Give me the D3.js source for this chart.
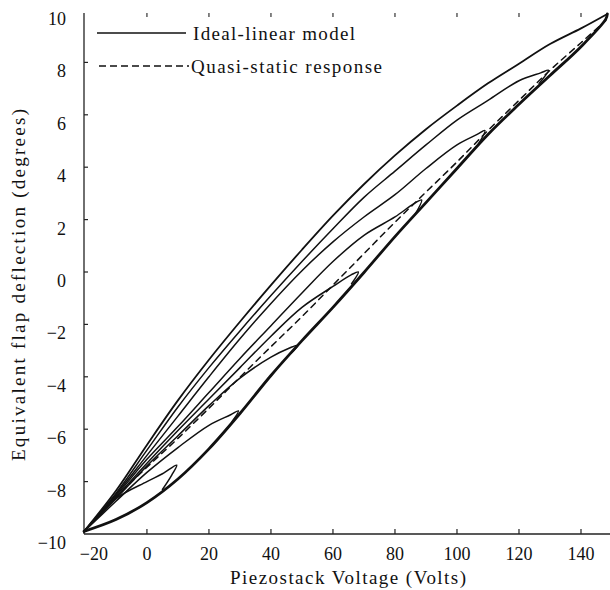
<!DOCTYPE html>
<html>
<head>
<meta charset="utf-8">
<script src="https://cdn.jsdelivr.net/npm/d3@7"></script>
<style>
  body { margin: 0; background: #fff; }
  svg { display: block; font-family: "Liberation Serif", "Times New Roman", serif; }
</style>
</head>
<body>
<script>
const width = 610, height = 590;

// ticks
const xTicks = [-20, 0, 20, 40, 60, 80, 100, 120, 140];
const yTicks = [-10, -8, -6, -4, -2, 0, 2, 4, 6, 8, 10];

// quasi-static response (dashed)
const quasiStatic = [[-20.3,-9.9],[-10,-8.6],[0,-7.45],[10,-6.35],[20,-5.2],[30,-4.02],[40,-2.85],[50,-1.7],
  [60,-0.5],[70,0.7],[80,1.9],[90,3.05],[100,4.2],[110,5.4],[120,6.55],[130,7.7],[140,8.75],[148,9.6]];

// ascending (lower) branch shared by all loops
const lowerBranch = [[-20.3,-9.9],[-10,-9.45],[0,-8.8],[10,-7.9],[20,-6.75],[30,-5.4],[40,-3.95],[50,-2.62],
  [60,-1.35],[70,-0.02],[80,1.35],[90,2.65],[100,3.95],[110,5.25],[120,6.4],[130,7.5],[140,8.6],[148,9.65],[148.5,9.85]];

// descending branches, from each turning point back to the start
const outerUpper = [[148.5,9.85],[140,9.3],[130,8.7],[120,7.95],[110,7.2],[100,6.35],[90,5.45],[80,4.45],[70,3.35],
  [60,2.15],[50,0.85],[40,-0.5],[30,-1.9],[20,-3.35],[10,-4.9],[0,-6.6],[-10,-8.35],[-20.3,-9.9]];
const loop128 = [[126.5,7.2],[129.5,7.7],[127,7.6],[120,7.3],[110,6.55],[100,5.8],[90,4.85],[80,3.85],[70,2.85],
  [60,1.65],[50,0.4],[40,-0.9],[30,-2.25],[20,-3.65],[10,-5.15],[0,-6.8],[-10,-8.45],[-20.3,-9.9]];
const loop108 = [[106.5,4.8],[109,5.4],[106.5,5.25],[100,4.85],[90,3.95],[80,2.95],[70,2.1],[60,1.15],[50,0.05],
  [40,-1.2],[30,-2.55],[20,-4.0],[10,-5.5],[0,-7.0],[-10,-8.5],[-20.3,-9.9]];
const loop88 = [[86.5,2.2],[88.6,2.75],[86,2.6],[80,2.1],[70,1.4],[60,0.4],[50,-0.8],[40,-2.05],[30,-3.3],
  [20,-4.6],[10,-5.9],[0,-7.15],[-10,-8.55],[-20.3,-9.9]];
const loop68 = [[66,-0.45],[68.2,0.0],[66,-0.1],[60,-0.55],[50,-1.35],[40,-2.45],[30,-3.65],[20,-4.85],
  [10,-6.05],[0,-7.3],[-10,-8.6],[-20.3,-9.9]];
const loop48 = [[46.5,-3.1],[48.8,-2.79],[46,-2.9],[40,-3.25],[30,-4.05],[20,-5.1],[10,-6.25],[0,-7.4],
  [-10,-8.65],[-20.3,-9.9]];
const loop28 = [[27.5,-5.7],[29.5,-5.3],[27,-5.45],[20,-5.85],[10,-6.7],[0,-7.65],[-10,-8.75],[-20.3,-9.9]];
const loop8 = [[5,-8.3],[8,-7.75],[9.6,-7.37],[5,-7.7],[0,-8.0],[-10,-8.65],[-20.3,-9.9]];
const innerLoops = [loop128, loop108, loop88, loop68, loop48, loop28, loop8];

const x = d3.scaleLinear().domain([-20.3, 150]).range([84, 612]);
const y = d3.scaleLinear().domain([-10, 10]).range([534, 10]);

const svg = d3.select("body").append("svg")
    .attr("width", width)
    .attr("height", height)
    .attr("fill", "#111");

const line = d3.line()
    .x(d => x(d[0]))
    .y(d => y(d[1]))
    .curve(d3.curveCatmullRom.alpha(0.5));

// axes
svg.append("line")
    .attr("x1", 84).attr("x2", 610).attr("y1", 534).attr("y2", 534)
    .attr("stroke", "#222").attr("stroke-width", 1.3);
svg.append("line")
    .attr("x1", 84).attr("x2", 84).attr("y1", 534).attr("y2", 13)
    .attr("stroke", "#222").attr("stroke-width", 1.3);

// bottom ticks + top marks
svg.append("g").selectAll("line")
    .data(xTicks.filter(d => d > -20))
    .enter().append("line")
    .attr("x1", d => x(d)).attr("x2", d => x(d))
    .attr("y1", 534).attr("y2", 529)
    .attr("stroke", "#222").attr("stroke-width", 1.2);
svg.append("g").selectAll("line")
    .data(xTicks.filter(d => d > -20))
    .enter().append("line")
    .attr("x1", d => x(d)).attr("x2", d => x(d))
    .attr("y1", 13).attr("y2", 17)
    .attr("stroke", "#333").attr("stroke-width", 1.2);

svg.append("g").selectAll("line")
    .data(yTicks.filter(d => d > -10 && d < 10))
    .enter().append("line")
    .attr("x1", 84).attr("x2", 88)
    .attr("y1", d => y(d)).attr("y2", d => y(d))
    .attr("stroke", "#222").attr("stroke-width", 1.2);

const fmt = d => d < 0 ? "\u2212" + Math.abs(d) : String(d);

svg.append("g")
    .attr("font-size", 18)
    .attr("text-anchor", "middle")
    .selectAll("text")
    .data(xTicks)
    .enter().append("text")
    .attr("x", d => d === -20 ? x(d) + 9 : x(d))
    .attr("y", 560)
    .text(fmt);

svg.append("g")
    .attr("font-size", 18)
    .attr("text-anchor", "end")
    .selectAll("text")
    .data(yTicks)
    .enter().append("text")
    .attr("x", 66)
    .attr("y", d => y(d) + 15)
    .text(fmt);

svg.append("text")
    .attr("x", 348).attr("y", 584)
    .attr("font-size", 19)
    .attr("text-anchor", "middle")
    .attr("textLength", 236).attr("lengthAdjust", "spacing")
    .text("Piezostack Voltage (Volts)");

svg.append("text")
    .attr("transform", "translate(25,285) rotate(-90)")
    .attr("font-size", 19)
    .attr("text-anchor", "middle")
    .attr("textLength", 352).attr("lengthAdjust", "spacing")
    .text("Equivalent flap deflection (degrees)");

// curves
const g = svg.append("g").attr("fill", "none").attr("stroke", "#111")
    .attr("stroke-linejoin", "round").attr("stroke-linecap", "round");

g.append("path")
    .attr("d", line(quasiStatic))
    .attr("stroke-width", 1.5)
    .attr("stroke-dasharray", "6,5");

g.selectAll(".loop")
    .data(innerLoops)
    .enter().append("path")
    .attr("class", "loop")
    .attr("d", line)
    .attr("stroke-width", 1.5);

g.append("path")
    .attr("d", line(outerUpper))
    .attr("stroke-width", 1.8);

g.append("path")
    .attr("d", line(lowerBranch))
    .attr("stroke-width", 2.8);

// legend
const legend = svg.append("g");
legend.append("line")
    .attr("x1", 97).attr("x2", 186).attr("y1", 33).attr("y2", 33)
    .attr("stroke", "#111").attr("stroke-width", 1.5);
legend.append("line")
    .attr("x1", 99).attr("x2", 189).attr("y1", 66).attr("y2", 66)
    .attr("stroke", "#111").attr("stroke-width", 1.5)
    .attr("stroke-dasharray", "7,4");
legend.append("text")
    .attr("x", 193).attr("y", 40)
    .attr("font-size", 19)
    .attr("textLength", 162).attr("lengthAdjust", "spacing")
    .text("Ideal-linear model");
legend.append("text")
    .attr("x", 191).attr("y", 73)
    .attr("font-size", 19)
    .attr("textLength", 191).attr("lengthAdjust", "spacing")
    .text("Quasi-static response");
</script>
</body>
</html>
